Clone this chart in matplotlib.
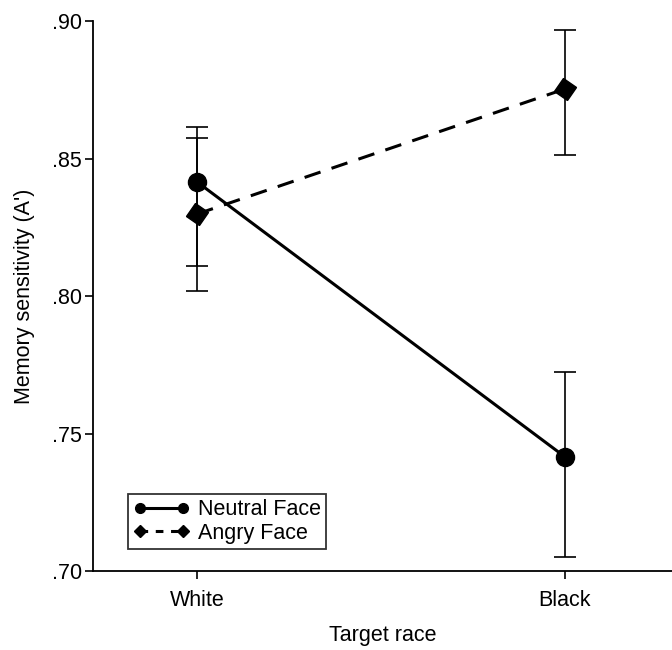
import matplotlib
matplotlib.use("Agg")
from matplotlib import pyplot as plt
from matplotlib.markers import MarkerStyle
from matplotlib.ticker import FuncFormatter

plt.rcParams['font.family'] = ['Liberation Sans', 'DejaVu Sans']

races = ["White", "Black"]
neutral = [0.8415, 0.7415]
neutral_lo = [0.811, 0.705]
neutral_hi = [0.8575, 0.7725]
angry = [0.8298, 0.8753]
angry_lo = [0.8018, 0.8513]
angry_hi = [0.8616, 0.8967]

x = list(range(len(races)))
fs = 15.5

fig = plt.figure(figsize=(6.72, 6.5), dpi=100)
ax = fig.add_axes([93/672, 79/650, 1 - 93/672, 550/650])

ax.errorbar(x, neutral, yerr=[[m - l for m, l in zip(neutral, neutral_lo)], [h - m for m, h in zip(neutral, neutral_hi)]],
            fmt='none', ecolor='black', elinewidth=1.2, capsize=8, capthick=1.2, zorder=2)
ax.errorbar(x, angry, yerr=[[m - l for m, l in zip(angry, angry_lo)], [h - m for m, h in zip(angry, angry_hi)]],
            fmt='none', ecolor='black', elinewidth=1.2, capsize=8, capthick=1.2, zorder=2)

ax.plot(x, neutral, color='black', lw=2.2, marker='o', markersize=13, zorder=3, label='Neutral Face')
sq = MarkerStyle('s')
sq._transform = sq.get_transform().rotate_deg(-33)
ax.plot(x, angry, color='black', lw=2.2, ls=(0, (5.5, 3.8)), marker=sq, markersize=11, zorder=3)
# legend handle with smaller diamond
ax.plot([], [], color='black', lw=2.2, ls=(0, (2.5, 2.5)), marker='D', markersize=6, label='Angry Face')

ax.set_xlim(-0.2826, 1.2908)
ax.set_ylim(0.70, 0.90)
ax.set_yticks([0.70, 0.75, 0.80, 0.85, 0.90])
ax.yaxis.set_major_formatter(FuncFormatter(lambda v, p: ("%.2f" % v)[1:]))
ax.set_xticks(x)
ax.set_xticklabels(races)
ax.tick_params(axis='both', labelsize=fs, width=1.2, length=6, direction='out', color='black')
ax.tick_params(axis='y', pad=2)
ax.tick_params(axis='x', pad=8)
for s in ['top', 'right']:
    ax.spines[s].set_visible(False)
for s in ['left', 'bottom']:
    ax.spines[s].set_linewidth(1.3)

ax.set_xlabel("Target race", fontsize=fs, labelpad=10)
ax.set_ylabel("Memory sensitivity (A')", fontsize=fs, labelpad=12)

h, l = ax.get_legend_handles_labels()
h[0] = plt.Line2D([], [], color='black', lw=2.2, marker='o', markersize=7)
leg = ax.legend(h, l, loc='lower left', bbox_to_anchor=(0.06, 0.04), fontsize=fs, frameon=True, fancybox=False,
                edgecolor='black', handlelength=2.6, handletextpad=0.4, borderpad=0.25, labelspacing=0.1,
                numpoints=2, borderaxespad=0)
leg.get_frame().set_linewidth(1.3)

fig.savefig("out.png", dpi=100)
